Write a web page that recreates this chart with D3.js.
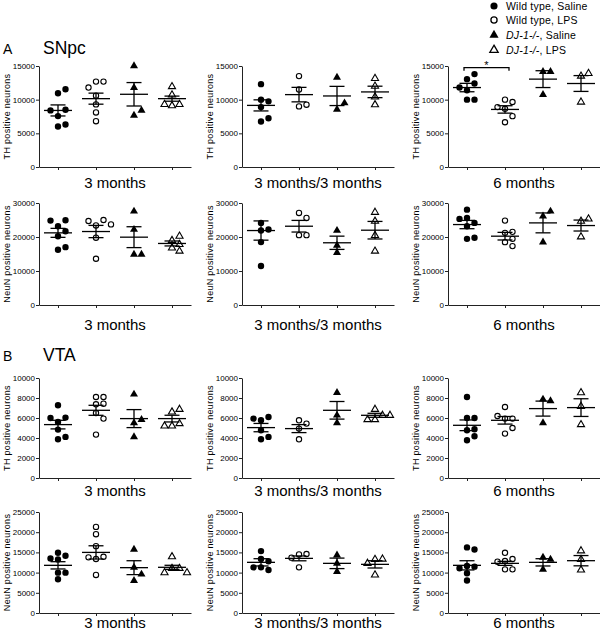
<!DOCTYPE html>
<html><head><meta charset="utf-8">
<script src="https://cdn.jsdelivr.net/npm/d3@7"></script>
<style>
body{margin:0;background:#fff}
svg{display:block}
text{font-family:"Liberation Sans",Arial,sans-serif;fill:#000}
</style>
</head><body>
<svg id="chart" width="600" height="635"></svg>
<script>
// ---------- categories / labels ----------
const groups = ["Wild type, Saline", "Wild type, LPS", "DJ-1-/-, Saline", "DJ-1-/-, LPS"];
const timepoints = ["3 months", "3 months/3 months", "6 months"];
const regions = ["SNpc", "VTA"];
const regionLetters = ["A", "B"];
const measures = ["TH positive neurons", "NeuN positive neurons", "TH positive neurons", "NeuN positive neurons"];
const rowMax = [15000, 30000, 10000, 25000];
const rowTicks = [
  [0, 5000, 10000, 15000],
  [0, 10000, 20000, 30000],
  [0, 2000, 4000, 6000, 8000, 10000],
  [0, 5000, 10000, 15000, 20000, 25000]
];

// ---------- data (individual animals, group mean, SEM) ----------
// SNpc, TH
const snpcTH3 = [
  [10945, 11542, 7562, 8507, 8408, 6020, 6318],
  [12686, 12686, 11800, 10600, 9300, 8100, 6800],
  [15025, 11790, 7662, 8408],
  [11940, 10700, 9100, 9300, 9300]
];
const snpcTH3Mean = [8400, 10150, 10800, 10150];
const snpcTH3Sem = [820, 820, 1740, 380];

const snpcTH33 = [
  [12300, 10000, 9750, 8900, 6750, 7250],
  [13500, 11500, 9000, 9250],
  [13300, 8550, 9500],
  [12000, 9250, 13150, 10400]
];
const snpcTH33Mean = [9150, 10750, 10550, 11150];
const snpcTH33Sem = [825, 1075, 1425, 850];

const snpcTH6 = [
  [13050, 13800, 12400, 11400, 11800, 10000, 10000],
  [10000, 9650, 8650, 8900, 6650, 7550],
  [14150, 10750, 14150],
  [13500, 9650, 13900]
];
const snpcTH6Mean = [11800, 8550, 13050, 12400];
const snpcTH6Sem = [625, 550, 1250, 1175];

// SNpc, NeuN
const snpcNeuN3 = [
  [23170, 24930, 24830, 20240, 21700, 16240, 17020],
  [23400, 25000, 24700, 23700, 19800, 13600],
  [27560, 22200, 14880, 14880],
  [18970, 20240, 17800, 16800, 15850]
];
const snpcNeuN3Mean = [21220, 21610, 19950, 18100];
const snpcNeuN3Sem = [1320, 1800, 3070, 730];

const snpcNeuN33 = [
  [24150, 21900, 22200, 18500, 11460],
  [27070, 25600, 20540, 20540],
  [21900, 17500, 15370],
  [27270, 24630, 20440, 15850]
];
const snpcNeuN33Mean = [21900, 23170, 18300, 22000];
const snpcNeuN33Sem = [2830, 1710, 1950, 2580];

const snpcNeuN6 = [
  [28050, 23170, 24150, 25600, 25320, 19460, 19760],
  [24830, 21220, 21510, 19460, 18480, 17320],
  [26100, 27560, 18480],
  [24630, 25320, 20050]
];
const snpcNeuN6Mean = [23660, 20240, 24150, 23370];
const snpcNeuN6Sem = [1220, 1120, 2925, 1610];

// VTA, TH
const vtaTH3 = [
  [7270, 5600, 6040, 6000, 4840, 3870, 4110],
  [8100, 8100, 7370, 7430, 6500, 5940, 4340],
  [8370, 5500, 5840, 4110],
  [6600, 6870, 5200, 5440, 5200]
];
const vtaTH3Mean = [5340, 6770, 5940, 5940];
const vtaTH3Sem = [430, 500, 900, 335];

const vtaTH33 = [
  [5770, 6100, 5940, 4770, 3870, 4110],
  [5770, 5440, 4940, 3870],
  [8530, 6270, 5500],
  [6870, 6270, 5840, 5840, 6270]
];
const vtaTH33Mean = [5040, 4940, 6770, 6270];
const vtaTH33Sem = [415, 400, 880, 200];

const vtaTH6 = [
  [8100, 6000, 6000, 4770, 4870, 3770, 4170],
  [7100, 5940, 5940, 6200, 4440, 5000],
  [7870, 7700, 5500],
  [8530, 7170, 5340]
];
const vtaTH6Mean = [5270, 5770, 6940, 7040];
const vtaTH6Sem = [535, 380, 750, 885];

// VTA, NeuN
const vtaNeuN3 = [
  [14900, 14180, 13520, 13270, 9990, 9990, 8350],
  [21310, 19500, 16550, 13360, 13930, 13770, 9420],
  [15730, 11300, 8030, 9580],
  [13930, 11050, 11050, 9990, 9990]
];
const vtaNeuN3Mean = [11800, 15000, 11220, 11310];
const vtaNeuN3Sem = [900, 1640, 1720, 500];

const vtaNeuN33 = [
  [15320, 13360, 12800, 11300, 11300, 10650],
  [14500, 14600, 13700, 11300],
  [14340, 12290, 10240],
  [13270, 13360, 12300, 9420]
];
const vtaNeuN33Mean = [12540, 13520, 12290, 12040];
const vtaNeuN33Sem = [900, 600, 1300, 900];

const vtaNeuN6 = [
  [16230, 15730, 11630, 11470, 11060, 9830, 8030],
  [14900, 13360, 12860, 12700, 10810, 10810],
  [13770, 13270, 10810],
  [15400, 13270, 10650]
];
const vtaNeuN6Mean = [11800, 12290, 12540, 12950];
const vtaNeuN6Sem = [1140, 500, 900, 1270];

// significance: 6-month SNpc TH, WT saline vs WT LPS
const sigPanel = [0, 2];          // row, col
const sigGroups = [0, 1];
const sigLevel = [14750, 14300];  // bracket height, foot
const sigLabel = "*";

// ---------- panel table built from the arrays ----------
const panels = [
  [0, 0, snpcTH3, snpcTH3Mean, snpcTH3Sem],
  [0, 1, snpcTH33, snpcTH33Mean, snpcTH33Sem],
  [0, 2, snpcTH6, snpcTH6Mean, snpcTH6Sem],
  [1, 0, snpcNeuN3, snpcNeuN3Mean, snpcNeuN3Sem],
  [1, 1, snpcNeuN33, snpcNeuN33Mean, snpcNeuN33Sem],
  [1, 2, snpcNeuN6, snpcNeuN6Mean, snpcNeuN6Sem],
  [2, 0, vtaTH3, vtaTH3Mean, vtaTH3Sem],
  [2, 1, vtaTH33, vtaTH33Mean, vtaTH33Sem],
  [2, 2, vtaTH6, vtaTH6Mean, vtaTH6Sem],
  [3, 0, vtaNeuN3, vtaNeuN3Mean, vtaNeuN3Sem],
  [3, 1, vtaNeuN33, vtaNeuN33Mean, vtaNeuN33Sem],
  [3, 2, vtaNeuN6, vtaNeuN6Mean, vtaNeuN6Sem]
].map(([row, col, pts, mean, sem]) => ({row, col, pts, mean, sem}));

// ---------- layout ----------
const colLeft = [39, 242, 448];
const plotW = 152;
const rowTop = [66, 203, 378, 512];
const rowBottom = [167, 305, 478, 613];
const labelBase = [188, 330, 496, 628];
const slotW = 7.5, minGap = 6.5;
const meanHalf = 14, semHalf = 7.5;

const svg = d3.select("#chart");
const ink = "#000";

// symbols
const symCircle = d3.symbol().type(d3.symbolCircle).size(30);
const symTri = d3.symbol().type(d3.symbolTriangle).size(26);
const groupStyle = [
  {sym: symCircle, fill: ink},
  {sym: symCircle, fill: "#fff"},
  {sym: symTri, fill: ink},
  {sym: symTri, fill: "#fff"}
];

function place(values, y) {
  const placed = [];
  return values.map(v => {
    const py = y(v);
    for (const s of [0, 1, -1, 2, -2, 3, -3]) {
      if (!placed.some(p => p.s === s && Math.abs(p.py - py) < minGap)) {
        placed.push({s, py});
        return {v, s};
      }
    }
    return {v, s: 0};
  });
}

panels.forEach(p => {
  const x = d3.scalePoint().domain(d3.range(groups.length))
    .range([colLeft[p.col], colLeft[p.col] + plotW]).padding(0.5);
  const y = d3.scaleLinear().domain([0, rowMax[p.row]])
    .range([rowBottom[p.row], rowTop[p.row]]);
  const g = svg.append("g");

  // axes
  const ya = g.append("g").attr("transform", `translate(${colLeft[p.col]},0)`)
    .call(d3.axisLeft(y).tickValues(rowTicks[p.row]).tickSize(3).tickSizeOuter(0)
      .tickPadding(1).tickFormat(d3.format("d")));
  const xa = g.append("g").attr("transform", `translate(0,${rowBottom[p.row]})`)
    .call(d3.axisBottom(x).tickSize(3).tickSizeOuter(0).tickFormat(""));
  [ya, xa].forEach(a => {
    a.selectAll("path,line").attr("stroke", "#222").attr("stroke-width", 1);
    a.selectAll("text").attr("font-size", 8).attr("fill", ink)
      .attr("font-family", '"Liberation Sans",Arial,sans-serif');
  });

  // y title
  g.append("text")
    .attr("transform", `translate(${colLeft[p.col] - 29},${(rowTop[p.row] + rowBottom[p.row]) / 2}) rotate(-90)`)
    .attr("text-anchor", "middle").attr("font-size", 9).attr("letter-spacing", 0.3)
    .text(measures[p.row]);

  // x title
  g.append("text")
    .attr("x", colLeft[p.col] + plotW / 2).attr("y", labelBase[p.row])
    .attr("text-anchor", "middle").attr("font-size", 15)
    .text(timepoints[p.col]);

  // points
  p.pts.forEach((vals, gi) => {
    const st = groupStyle[gi];
    const open = st.fill === "#fff";
    g.append("g").selectAll("path").data(place(vals, y)).join("path")
      .attr("transform", d => `translate(${x(gi) + d.s * slotW},${y(d.v)})`)
      .attr("d", open ? st.sym.size(st.sym === symTri ? 22 : 22)() : st.sym.size(st.sym === symTri ? 28 : 32)())
      .attr("fill", st.fill)
      .attr("stroke", open ? ink : "none")
      .attr("stroke-width", 1.1);
  });

  // mean and SEM
  const bars = g.append("g").attr("stroke", ink).attr("stroke-width", 1.3).attr("fill", "none");
  p.mean.forEach((m, gi) => {
    const cx = x(gi), s = p.sem[gi];
    bars.append("line").attr("x1", cx - meanHalf).attr("x2", cx + meanHalf)
      .attr("y1", y(m)).attr("y2", y(m));
    bars.append("line").attr("x1", cx - semHalf).attr("x2", cx + semHalf)
      .attr("y1", y(m + s)).attr("y2", y(m + s));
    bars.append("line").attr("x1", cx - semHalf).attr("x2", cx + semHalf)
      .attr("y1", y(m - s)).attr("y2", y(m - s));
    bars.append("line").attr("x1", cx).attr("x2", cx)
      .attr("y1", y(m + s)).attr("y2", y(m - s));
  });

  // significance bracket
  if (p.row === sigPanel[0] && p.col === sigPanel[1]) {
    const x0 = x(sigGroups[0]) - 3, x1 = x(sigGroups[1]) + 4;
    const yb = y(sigLevel[0]), yf = y(sigLevel[1]);
    g.append("path").attr("d", `M${x0},${yf}V${yb}H${x1}V${yf}`)
      .attr("fill", "none").attr("stroke", ink).attr("stroke-width", 1.3);
    g.append("text").attr("x", (x0 + x1) / 2).attr("y", yb + 1)
      .attr("text-anchor", "middle").attr("font-size", 11).text(sigLabel);
  }
});

// region headings
const headY = [54, 361];
regions.forEach((r, i) => {
  svg.append("text").attr("x", 3).attr("y", headY[i]).attr("font-size", 14).text(regionLetters[i]);
  svg.append("text").attr("x", 43).attr("y", headY[i]).attr("font-size", 17.5).text(r);
});

// legend
const legX = 494, legY = [6, 20, 35, 50];
groups.forEach((name, gi) => {
  const st = groupStyle[gi];
  const open = st.fill === "#fff";
  svg.append("path")
    .attr("transform", `translate(${legX},${legY[gi]})`)
    .attr("d", st.sym === symTri ? (open ? st.sym.size(30)() : st.sym.size(36)()) : (open ? st.sym.size(30)() : st.sym.size(40)()))
    .attr("fill", st.fill).attr("stroke", open ? ink : "none").attr("stroke-width", 1.3);
  const t = svg.append("text").attr("x", legX + 12).attr("y", legY[gi] + 4)
    .attr("font-size", 10.5).attr("letter-spacing", 0.2);
  const parts = name.split(", ");
  if (parts[0].startsWith("DJ")) {
    t.append("tspan").attr("font-style", "italic").text(parts[0]);
    t.append("tspan").text(", " + parts[1]);
  } else {
    t.text(name);
  }
});
</script>
</body></html>
